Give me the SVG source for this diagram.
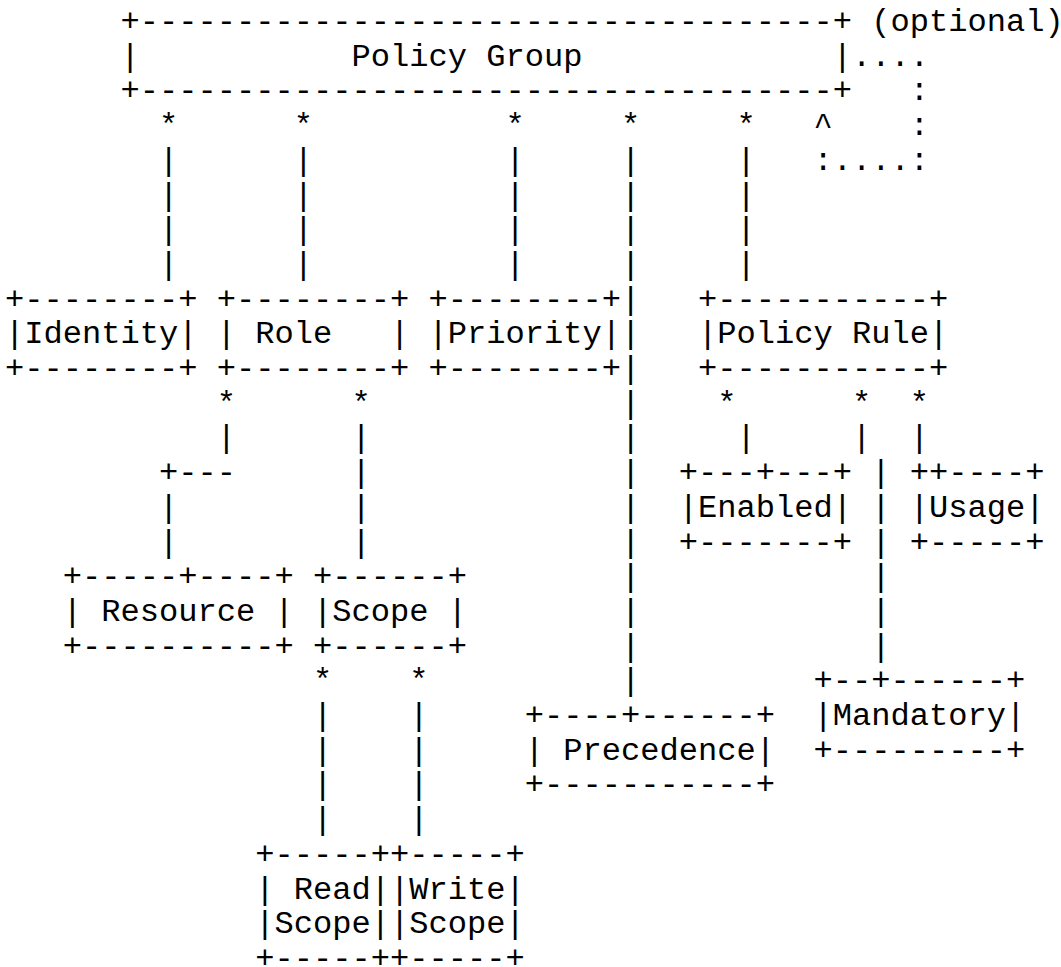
<svg xmlns="http://www.w3.org/2000/svg" width="1061" height="967" viewBox="0 0 1061 967" xml:space="preserve">
<style>
text { font-family: "Liberation Mono", "Courier New", monospace; font-size: 32.08px; fill: #000; white-space: pre; }
</style>
<rect width="1061" height="967" fill="#fff"/>
<g id="policy-group">
<text x="120.4" y="31">+------------------------------------+</text>
<text x="120.4" y="65.7">|           Policy Group             |</text>
<text x="120.4" y="100.4">+------------------------------------+</text>
</g>
<g id="identity">
<text x="4.9" y="308.6">+--------+</text>
<text x="4.9" y="343.3">|Identity|</text>
<text x="4.9" y="378">+--------+</text>
</g>
<g id="role">
<text x="216.65" y="308.6">+--------+</text>
<text x="216.65" y="343.3">| Role   |</text>
<text x="216.65" y="378">+--------+</text>
</g>
<g id="priority">
<text x="428.4" y="308.6">+--------+</text>
<text x="428.4" y="343.3">|Priority|</text>
<text x="428.4" y="378">+--------+</text>
</g>
<g id="policy-rule">
<text x="697.9" y="308.6">+-----------+</text>
<text x="697.9" y="343.3">|Policy Rule|</text>
<text x="697.9" y="378">+-----------+</text>
</g>
<g id="enabled">
<text x="678.65" y="482.1">+---+---+</text>
<text x="678.65" y="516.8">|Enabled|</text>
<text x="678.65" y="551.5">+-------+</text>
</g>
<g id="usage">
<text x="909.65" y="482.1">++----+</text>
<text x="909.65" y="516.8">|Usage|</text>
<text x="909.65" y="551.5">+-----+</text>
</g>
<g id="resource">
<text x="62.65" y="586.2">+-----+----+</text>
<text x="62.65" y="620.9">| Resource |</text>
<text x="62.65" y="655.6">+----------+</text>
</g>
<g id="scope">
<text x="312.9" y="586.2">+------+</text>
<text x="312.9" y="620.9">|Scope |</text>
<text x="312.9" y="655.6">+------+</text>
</g>
<g id="mandatory">
<text x="813.4" y="690.3">+--+------+</text>
<text x="813.4" y="725">|Mandatory|</text>
<text x="813.4" y="759.7">+---------+</text>
</g>
<g id="precedence">
<text x="524.65" y="725">+----+------+</text>
<text x="524.65" y="759.7">| Precedence|</text>
<text x="524.65" y="794.4">+-----------+</text>
</g>
<g id="read-scope">
<text x="255.15" y="863.8">+-----+</text>
<text x="255.15" y="898.5">| Read|</text>
<text x="255.15" y="933.2">|Scope|</text>
<text x="255.15" y="967.9">+-----+</text>
</g>
<g id="write-scope">
<text x="389.9" y="863.8">+-----+</text>
<text x="389.9" y="898.5">|Write|</text>
<text x="389.9" y="933.2">|Scope|</text>
<text x="389.9" y="967.9">+-----+</text>
</g>
<g id="connectors">
<text x="871.15" y="31">(optional)</text>
<text x="851.9" y="65.7">....</text>
<text x="909.65" y="100.4">:</text>
<text x="158.9" y="135.1">*</text><text x="293.65" y="135.1">*</text><text x="505.4" y="135.1">*</text><text x="620.9" y="135.1">*</text><text x="736.4" y="135.1">*</text><text x="813.4" y="135.1">^</text><text x="909.65" y="135.1">:</text>
<text x="158.9" y="169.8">|</text><text x="293.65" y="169.8">|</text><text x="505.4" y="169.8">|</text><text x="620.9" y="169.8">|</text><text x="736.4" y="169.8">|</text><text x="813.4" y="169.8">:....:</text>
<text x="158.9" y="204.5">|</text><text x="293.65" y="204.5">|</text><text x="505.4" y="204.5">|</text><text x="620.9" y="204.5">|</text><text x="736.4" y="204.5">|</text>
<text x="158.9" y="239.2">|</text><text x="293.65" y="239.2">|</text><text x="505.4" y="239.2">|</text><text x="620.9" y="239.2">|</text><text x="736.4" y="239.2">|</text>
<text x="158.9" y="273.9">|</text><text x="293.65" y="273.9">|</text><text x="505.4" y="273.9">|</text><text x="620.9" y="273.9">|</text><text x="736.4" y="273.9">|</text>
<text x="620.9" y="308.6">|</text>
<text x="620.9" y="343.3">|</text>
<text x="620.9" y="378">|</text>
<text x="216.65" y="412.7">*</text><text x="351.4" y="412.7">*</text><text x="620.9" y="412.7">|</text><text x="717.15" y="412.7">*</text><text x="851.9" y="412.7">*</text><text x="909.65" y="412.7">*</text>
<text x="216.65" y="447.4">|</text><text x="351.4" y="447.4">|</text><text x="620.9" y="447.4">|</text><text x="736.4" y="447.4">|</text><text x="851.9" y="447.4">|</text><text x="909.65" y="447.4">|</text>
<text x="158.9" y="482.1">+---</text><text x="351.4" y="482.1">|</text><text x="620.9" y="482.1">|</text><text x="871.15" y="482.1">|</text>
<text x="158.9" y="516.8">|</text><text x="351.4" y="516.8">|</text><text x="620.9" y="516.8">|</text><text x="871.15" y="516.8">|</text>
<text x="158.9" y="551.5">|</text><text x="351.4" y="551.5">|</text><text x="620.9" y="551.5">|</text><text x="871.15" y="551.5">|</text>
<text x="620.9" y="586.2">|</text><text x="871.15" y="586.2">|</text>
<text x="620.9" y="620.9">|</text><text x="871.15" y="620.9">|</text>
<text x="620.9" y="655.6">|</text><text x="871.15" y="655.6">|</text>
<text x="312.9" y="690.3">*</text><text x="409.15" y="690.3">*</text><text x="620.9" y="690.3">|</text>
<text x="312.9" y="725">|</text><text x="409.15" y="725">|</text>
<text x="312.9" y="759.7">|</text><text x="409.15" y="759.7">|</text>
<text x="312.9" y="794.4">|</text><text x="409.15" y="794.4">|</text>
<text x="312.9" y="829.1">|</text><text x="409.15" y="829.1">|</text>
</g>
</svg>
